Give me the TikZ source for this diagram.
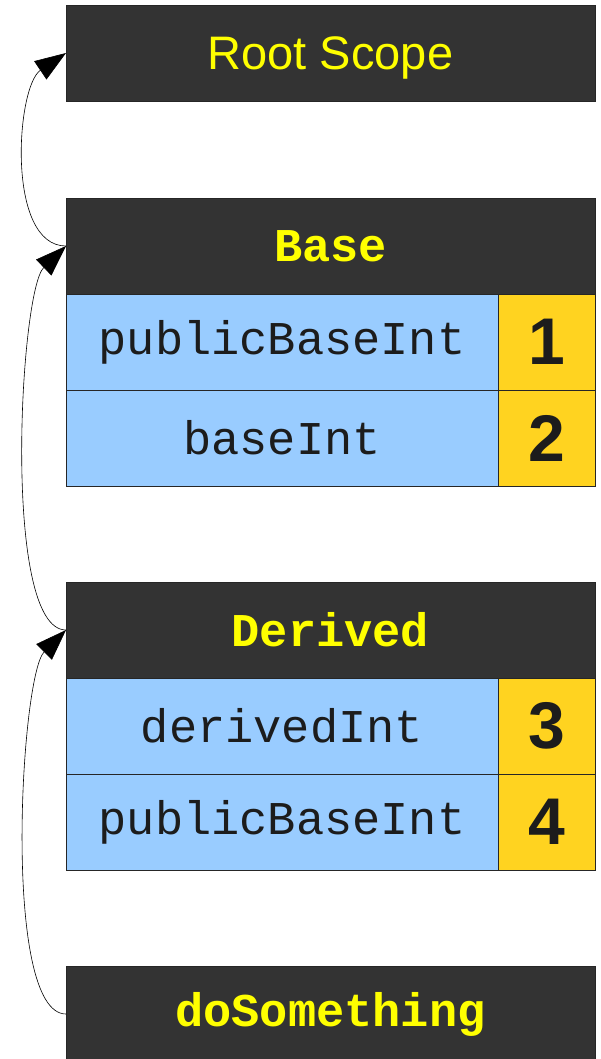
\documentclass[tikz,border=0pt]{standalone}
\usepackage{fontspec}
\setmainfont{Liberation Sans}
\newfontfamily\codefont{Liberation Mono}
\usepackage{tikz}
\usetikzlibrary{positioning}
\usetikzlibrary{arrows.meta}
\definecolor{hdrgray}{HTML}{333333}
\definecolor{hdryellow}{HTML}{FFFF00}
\definecolor{rowblue}{HTML}{99CCFF}
\definecolor{numgold}{HTML}{FFD320}
\definecolor{darktext}{HTML}{1C1C1C}
\tikzset{
	scope box/.style={draw=black!85,line width=0.8pt,fill=hdrgray,text=hdryellow,
		minimum width=529pt,minimum height=96pt,inner sep=0pt,outer sep=0pt},
	scope name/.style={scope box,font=\codefont\bfseries\fontsize{47}{50}\selectfont},
	var cell/.style={draw=black!85,line width=0.8pt,fill=rowblue,text=darktext,
		minimum width=432pt,minimum height=96pt,inner sep=0pt,outer sep=0pt,
		font=\codefont\fontsize{47}{50}\selectfont},
	slot cell/.style={draw=black!85,line width=0.8pt,fill=numgold,text=darktext,
		minimum width=97pt,minimum height=96pt,inner sep=0pt,outer sep=0pt,
		font=\bfseries\fontsize{66}{70}\selectfont},
	parent link/.style={-{Triangle[length=31pt,width=22pt]},line width=0.6pt}
}

\begin{document}
\begin{tikzpicture}[x=1pt,y=1pt]
	\useasboundingbox (0,0) rectangle (600,-1059);
	\node [scope box,font=\fontsize{47}{50}\selectfont,text depth=0pt] (root) at (330.5,-53) {Root Scope};
	\node [scope name,below=97pt of root] (base) {Base};
	\node [var cell,below=0pt of base.south west,anchor=north west] (pbi) {publicBaseInt};
	\node [slot cell,right=0pt of pbi] (s1) {1};
	\node [var cell,below=0pt of pbi] (bi) {baseInt};
	\node [slot cell,right=0pt of bi] (s2) {2};
	\node [scope name,below=96pt of bi.south west,anchor=north west] (derived) {Derived};
	\node [var cell,below=0pt of derived.south west,anchor=north west] (di) {derivedInt};
	\node [slot cell,right=0pt of di] (s3) {3};
	\node [var cell,below=0pt of di] (dpbi) {publicBaseInt};
	\node [slot cell,right=0pt of dpbi] (s4) {4};
	\node [scope name,below=96pt of dpbi.south west,anchor=north west] (dosth) {doSomething};
	% parent scope chain
	\draw [parent link] (base.west) to[out=180,in=214,looseness=0.8] (root.west);
	\draw [parent link] (derived.west) to[out=180,in=224,looseness=0.43] (base.west);
	\draw [parent link] (dosth.west) to[out=180,in=225,looseness=0.43] (derived.west);
\end{tikzpicture}
\end{document}
